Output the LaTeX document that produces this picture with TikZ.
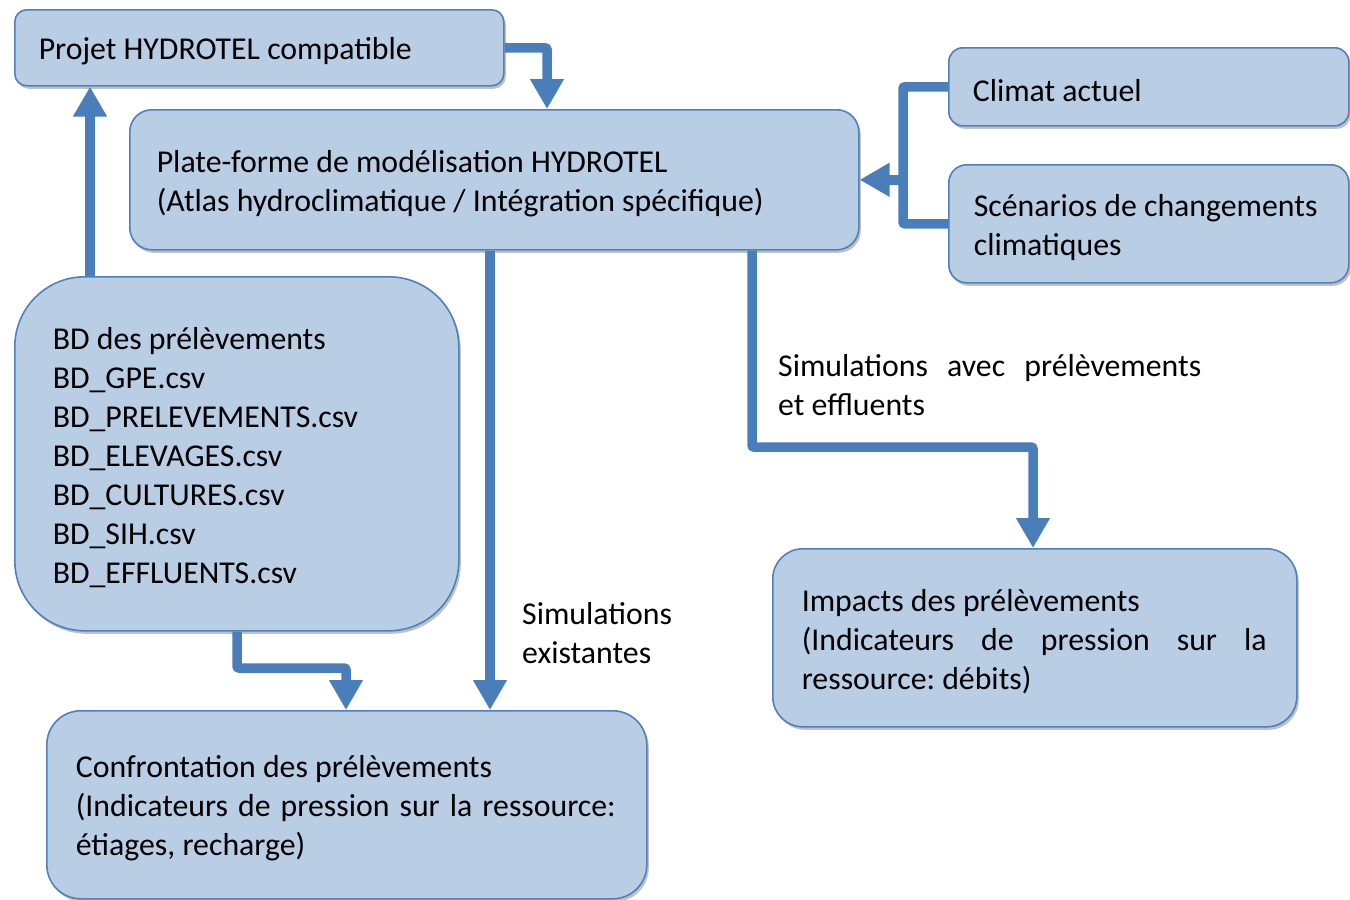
\documentclass[tikz,border=0pt]{standalone}
\usepackage{fontspec}
\setmainfont{Carlito}
\usetikzlibrary{arrows.meta,shadows,calc}
\definecolor{boxfill}{RGB}{185,205,229}
\definecolor{boxdraw}{RGB}{79,129,189}
\definecolor{arrowc}{RGB}{74,126,187}
\newcommand\bigfs{\fontsize{31.8}{39}\selectfont}
\newcommand\lin[1]{\mbox{#1}}
\newcommand\bxstart{\spaceskip=0pt\xspaceskip=0pt\frenchspacing\rule{0pt}{\dimexpr\fontcharht\font`\(+6pt\relax}}
\frenchspacing
\tikzset{
  box/.style={draw=boxdraw, line width=1.6pt, fill=boxfill, rounded corners=#1,
    drop shadow={shadow xshift=2pt, shadow yshift=-3pt, opacity=0.35, fill=black!70},
    align=left, anchor=north west, inner ysep=0pt, font=\bigfs, text=black},
  conn/.style={draw=arrowc, line width=9.5pt, rounded corners=2pt,
    -{Triangle[width=32pt,length=30pt]}},
  plainconn/.style={draw=arrowc, line width=9.5pt, rounded corners=2pt},
  lbl/.style={font=\bigfs, align=left, anchor=west, inner sep=0pt, text=black}
}
\begin{document}
\begin{tikzpicture}[x=1pt,y=-1pt]
\useasboundingbox (0,0) rectangle (1350,900);

\node[box=12pt, minimum height=76pt, text width=441pt, inner xsep=24pt] (proj) at (14,9)
  {\bxstart\lin{Projet HYDROTEL compatible}};
\node[box=22pt, minimum height=140pt, text width=675pt, inner xsep=27pt] (plat) at (129,109)
  {\bxstart\lin{Plate-forme de modélisation HYDROTEL}\\\lin{(Atlas hydroclimatique / Intégration spécifique)}};
\node[box=14pt, minimum height=78pt, text width=352pt, inner xsep=24pt] (clim) at (948,47)
  {\bxstart\lin{Climat actuel}};
\node[box=18pt, minimum height=118pt, text width=350pt, inner xsep=25pt] (scen) at (948,164)
  {\bxstart\lin{Scénarios de changements}\\\lin{climatiques}};
\node[box=70pt, minimum height=354pt, text width=368pt, inner xsep=38pt] (bd) at (14,276)
  {\bxstart\lin{BD des prélèvements}\\\lin{BD\_GPE.csv}\\\lin{BD\_PRELEVEMENTS.csv}\\\lin{BD\_ELEVAGES.csv}\\\lin{BD\_CULTURES.csv}\\\lin{BD\_SIH.csv}\\\lin{BD\_EFFLUENTS.csv}};
\node[box=34pt, minimum height=188pt, text width=542pt, inner xsep=29pt] (conf) at (46,710)
  {\bxstart\lin{Confrontation des prélèvements}\\\makebox[540pt][s]{(Indicateurs de pression sur la ressource:}\\\lin{étiages, recharge)}};
\node[box=30pt, minimum height=178pt, text width=466pt, inner xsep=29pt] (imp) at (772,548)
  {\bxstart\lin{Impacts des prélèvements}\\\makebox[465pt][s]{(Indicateurs de pression sur la}\\\lin{ressource: débits)}};

% connectors
\draw[conn] (proj.east) -| (547,0 |- plat.north);
\draw[conn] (90,0 |- bd.north) -- (90,0 |- proj.south);
\coordinate (cj) at (903,0 |- plat.east);
\draw[plainconn] (clim.west) -| (903,0 |- scen.west) -- (scen.west);
\draw[conn] (cj) -- (plat.east);
\draw[conn] (490,0 |- plat.south) -- (490,0 |- conf.north);
\coordinate (bend1) at (752,447);
\draw[conn] (752,0 |- plat.south) -- (bend1) -| (1033,0 |- imp.north);
\coordinate (bend2) at (237,668);
\draw[conn] (237,0 |- bd.south) -- (bend2) -| (346,0 |- conf.north);

% labels
\node[lbl] (l1) at (778,385) {\makebox[423pt][s]{Simulations avec prélèvements}\\et effluents};
\node[lbl] (l2) at (522,633) {Simulations\\existantes};
\end{tikzpicture}
\end{document}
